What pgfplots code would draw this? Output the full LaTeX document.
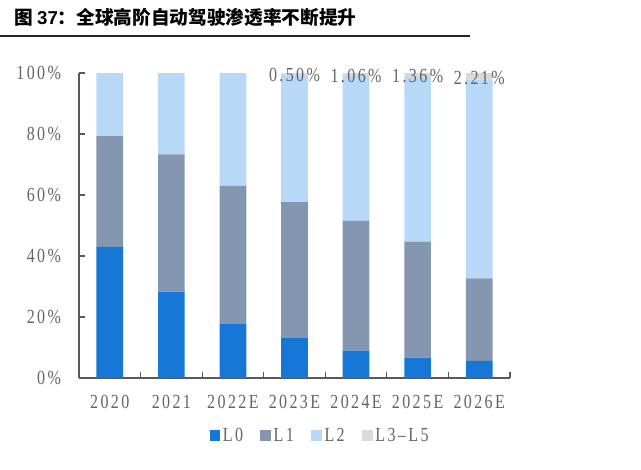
\documentclass[border=0pt]{standalone}
\usepackage{fontspec}
\usepackage{pgfplots}
\pgfplotsset{compat=1.18}
\usepackage{pgfplotstable}
\setmainfont{Liberation Serif}
\newfontfamily\lblfont{Liberation Serif}[FakeStretch=0.8, LetterSpace=12]
\newfontfamily\cjk{Noto Sans CJK SC}
\newfontfamily\titlesans{Liberation Sans}
\definecolor{cL0}{RGB}{23,119,214}
\definecolor{cL1}{RGB}{132,150,176}
\definecolor{cL2}{RGB}{184,216,247}
\definecolor{cL3}{RGB}{217,217,217}
\definecolor{axc}{RGB}{89,89,89}
\definecolor{txt}{RGB}{100,100,100}
\pgfplotstableread{
x L0 L1 L2 L3
0 43.0 36.3 20.7 0
1 28.3 45.0 26.7 0
2 17.7 45.3 37.0 0
3 13.1 44.6 41.8 0.50
4 9.0 42.5 47.44 1.06
5 6.7 38.0 53.94 1.36
6 5.6 27.1 65.09 2.21
}\datatable
\begin{document}
\begin{tikzpicture}
\useasboundingbox (0,0) rectangle (480.75pt,351.75pt);
\node[anchor=west, inner sep=0pt] at (10.5pt,339pt) {\fontsize{14pt}{16pt}\selectfont\cjk\bfseries 图 {\titlesans\bfseries 37}：全球高阶自动驾驶渗透率不断提升};
\draw[line width=1.2pt, black!85] (0pt,324.75pt) -- (352.5pt,324.75pt);
\begin{axis}[
  at={(59.25pt,68.25pt)}, anchor=south west,
  scale only axis, width=323.25pt, height=228.75pt,
  ybar stacked, bar width=20pt,
  xmin=-0.5, xmax=6.5, ymin=0, ymax=100,
  axis lines*=left,
  axis line style={axc, line width=0.8pt},
  tick align=inside, major tick length=4.5pt,
  tick style={axc, line width=0.8pt},
  /pgf/number format/assume math mode=true,
  ytick={0,20,40,60,80,100},
  yticklabel={\pgfmathprintnumber{\tick}\%},
  y tick label style={font=\fontsize{15pt}{16pt}\selectfont\lblfont, text=txt, xshift=-10pt},
  xtick={-0.5,0.5,1.5,2.5,3.5,4.5,5.5,6.5},
  xticklabels={},
  extra x ticks={0,1,2,3,4,5,6},
  extra x tick labels={2020,2021,2022E,2023E,2024E,2025E,2026E},
  extra x tick style={major tick length=0pt},
  x tick label style={font=\fontsize{15pt}{16pt}\selectfont\lblfont, text=txt, yshift=-9.5pt},
  legend style={at={(0.560,-0.190)}, anchor=center, legend columns=-1, draw=none,
    font=\fontsize{15pt}{16pt}\selectfont\lblfont, text=txt,
    /tikz/every even column/.append style={column sep=11pt},
    /tikz/every odd column/.append style={column sep=0pt}},
  sqleg/.style={legend image code/.code={\fill[##1] (0pt,-3.9pt) rectangle (8pt,4.1pt);}},
  every node near coord/.append style={anchor=center, font=\fontsize{15pt}{16pt}\selectfont\lblfont, text=txt, yshift=-1pt},
]
\addplot[fill=cL0, draw=none, sqleg] table[x=x,y=L0] {\datatable};
\addplot[fill=cL1, draw=none, sqleg] table[x=x,y=L1] {\datatable};
\addplot[fill=cL2, draw=none, sqleg] table[x=x,y=L2] {\datatable};
\addplot[fill=cL3, draw=none, sqleg, point meta=explicit,
  nodes near coords={\pgfmathfloatifflags{\pgfplotspointmeta}{0}{}{\pgfmathprintnumber[fixed,fixed zerofill,precision=2]{\pgfplotspointmeta}\%}}]
  table[x=x,y=L3,meta=L3] {\datatable};
\legend{L0,L1,L2,L3\textendash L5}
\end{axis}
\end{tikzpicture}
\end{document}
